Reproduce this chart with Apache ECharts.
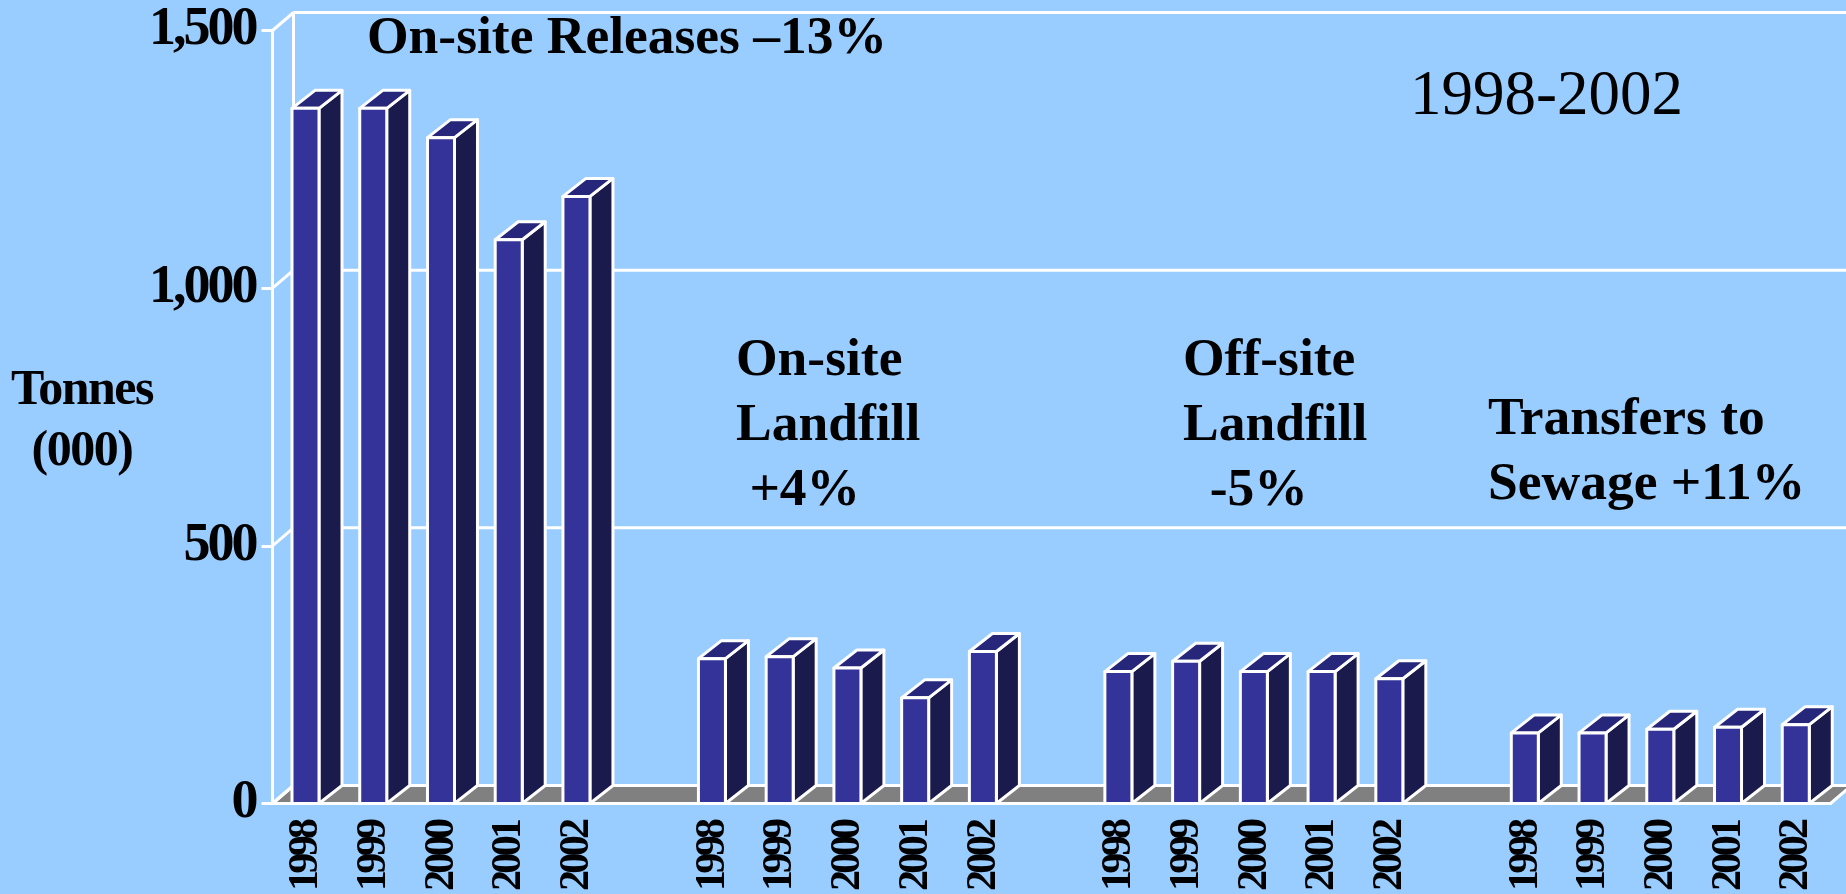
<!DOCTYPE html>
<html><head><meta charset="utf-8">
<style>html,body{margin:0;padding:0;background:#99ccff}#c{width:1846px;height:894px}</style>
<script src="https://cdn.jsdelivr.net/npm/echarts@6/dist/echarts.min.js"></script>
</head><body><div id="c"></div>
<script>
const years = ['1998','1999','2000','2001','2002'];
const onSiteReleases = [1349, 1349, 1292, 1094, 1178];
const onSiteLandfill = [281, 285, 263, 205, 295];
const offSiteLandfill = [256, 276, 256, 256, 242];
const transfersToSewage = [137, 137, 144, 148, 153];
const yTicks = [0, 500, 1000, 1500];
const categories = [...years,'',...years,'',...years,'',...years];
const values = [...onSiteReleases,null,...onSiteLandfill,null,...offSiteLandfill,null,...transfersToSewage];

// tight tracking of the original's bold labels, keyed by font size
const tracking = {54:'-3px', 50:'-1.5px', 42:'-3.6px'};
const nativeFill = CanvasRenderingContext2D.prototype.fillText;
CanvasRenderingContext2D.prototype.fillText = function(t,x,y,m){
  const s = /(\d+(?:\.\d+)?)px/.exec(this.font);
  this.letterSpacing = (s && tracking[s[1]]) || '0px';
  if (m===undefined) nativeFill.call(this,t,x,y); else nativeFill.call(this,t,x,y,m);
  this.letterSpacing = '0px';
};

const DX = 21, DY = 18, BAR_OFF = 19.5, BAR_W = 27, SIDE = 23, SIDE_H = 18;
const WHITE = '#ffffff', FRONT = '#333399', SIDEC = '#1a1a4d', TOP = '#26267a', FLOOR = '#808080';
const SERIF = '"Liberation Serif","Times New Roman",serif';

const chart = echarts.init(document.getElementById('c'));
function poly(points, fill){
  return {type:'polygon', shape:{points}, style:{fill, stroke:WHITE, lineWidth:3, lineJoin:'round'}};
}
function line(x1,y1,x2,y2){
  return {type:'line', shape:{x1,y1,x2,y2}, style:{stroke:WHITE, lineWidth:3, fill:null}};
}
const ann = (left, top, text, fontSize, fontWeight, lineHeight) => ({
  type:'text', left, top, z:10,
  style:{text, fontSize, fontWeight, lineHeight, fontFamily:SERIF, fill:'#000'}
});
chart.setOption({
  animation:false,
  backgroundColor:'#99ccff',
  grid:{left:272.5, right:15.5, top:30.5, bottom:90.5, outerBoundsMode:'none'},
  xAxis:{type:'category', data:categories, boundaryGap:true,
    axisLine:{lineStyle:{color:WHITE,width:3}},
    axisTick:{length:12, interval:0, lineStyle:{color:WHITE,width:3}},
    axisLabel:{interval:0, rotate:90, margin:18, fontSize:42, fontWeight:'bold', fontFamily:SERIF, color:'#000'},
    splitLine:{show:false}},
  yAxis:{type:'value', min:0, max:1500, interval:500,
    axisLine:{show:true, lineStyle:{color:WHITE,width:3}},
    axisTick:{show:true, length:11, lineStyle:{color:WHITE,width:3}},
    axisLabel:{margin:17, fontSize:54, fontWeight:'bold', fontFamily:SERIF, color:'#000'},
    splitLine:{show:false}},
  graphic:[
    {type:'text', x:82, y:361, z:10, style:{text:'Tonnes\n(000)', textAlign:'center', fontSize:50, fontWeight:'bold', lineHeight:61, fontFamily:SERIF, fill:'#000'}},
    ann(367, 12, 'On-site Releases –13%', 53.5, 'bold'),
    ann(1410, 66, '1998-2002', 63, 'normal'),
    ann(736, 329, 'On-site\nLandfill\n +4%', 53.5, 'bold', 65),
    ann(1183, 329, 'Off-site\nLandfill\n  -5%', 53.5, 'bold', 65),
    ann(1488, 388, 'Transfers to\nSewage +11%', 53.5, 'bold', 65)
  ],
  series:[
    {type:'custom', coordinateSystem:'cartesian2d', z:1, silent:true, clip:false,
     data:yTicks.map(v=>[0,v]),
     renderItem(params, api){
       const v = api.value(1);
       const band = api.size([1,0])[0];
       const p = api.coord([0,v]);
       const x0 = p[0]-band/2, y = p[1];
       const kids = [];
       if (v===0){
         const xEnd = api.coord([categories.length-1,0])[0]+band/2;
         kids.push(poly([[x0,y],[x0+DX,y-DY],[xEnd+DX,y-DY],[xEnd,y]],FLOOR));
         const top = api.coord([0,yTicks[yTicks.length-1]])[1];
         kids.push(line(x0+DX,y-DY,x0+DX,top-DY));
       } else {
         kids.push(line(x0+DX,y-DY,1846,y-DY));
       }
       kids.push(line(x0,y,x0+DX,y-DY));
       return {type:'group', children:kids};
     }},
    {type:'custom', coordinateSystem:'cartesian2d', z:3, silent:true, clip:false,
     encode:{x:0,y:1},
     data:values.map((v,i)=>[i,v]),
     renderItem(params, api){
       if (api.value(1)===null || isNaN(api.value(1))) return null;
       const band = api.size([1,0])[0];
       const p = api.coord([api.value(0),api.value(1)]);
       const b = api.coord([api.value(0),0]);
       const l = p[0]-band/2+BAR_OFF, r = l+BAR_W, t = p[1], bt = b[1];
       return {type:'group', children:[
         poly([[r,t],[r+SIDE,t-SIDE_H],[r+SIDE,bt-SIDE_H],[r,bt]],SIDEC),
         poly([[l,t],[l+SIDE,t-SIDE_H],[r+SIDE,t-SIDE_H],[r,t]],TOP),
         poly([[l,t],[r,t],[r,bt],[l,bt]],FRONT)
       ]};
     }}
  ]
});
</script></body></html>
